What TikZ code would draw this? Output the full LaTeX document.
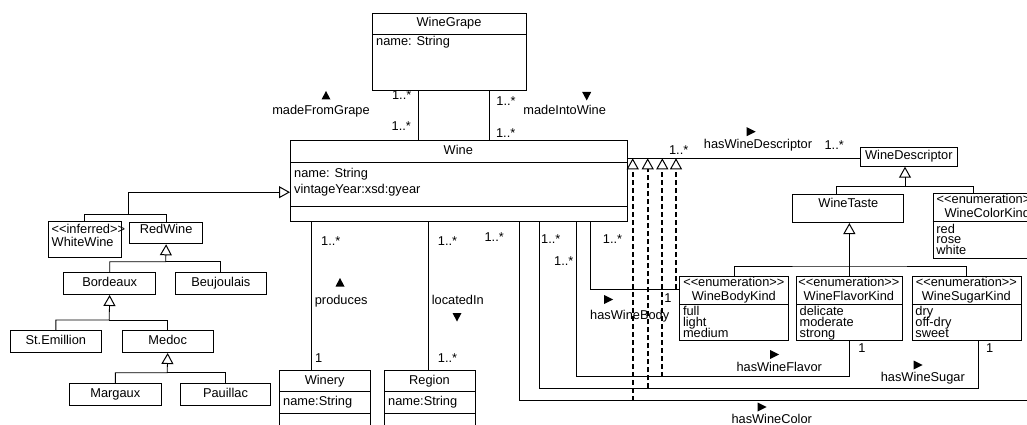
\documentclass[tikz,border=0pt]{standalone}
\usepackage{fontspec}
\setmainfont{Liberation Sans}
\usetikzlibrary{arrows.meta}

\tikzset{
  box/.style={draw, line width=1pt, fill=white, inner sep=0pt, anchor=north west},
  cls/.style={box, minimum height=22pt, text height=9pt, text depth=4pt},
  txt/.style={inner sep=0pt, anchor=base},
  attr/.style={inner sep=0pt, anchor=base west},
  mult/.style={inner sep=0pt, anchor=base},
  items/.style={inner sep=0pt, anchor=north west, align=left,
    font=\fontsize{12.8}{10.8}\selectfont\lineskiplimit-20pt},
  assoc/.style={line width=0.8pt},
  gen/.style={line width=0.8pt, -{Triangle[open, length=11pt, width=12pt, line width=1pt]}},
  subprop/.style={line width=1.8pt, dash pattern=on 5pt off 3pt,
    -{Triangle[open, length=11pt, width=12pt, line width=1pt]}},
  dirR/.pic={\fill (-4,-4.5) -- (5,0) -- (-4,4.5) -- cycle;},
  dirU/.pic={\fill (-4.5,4) -- (4.5,4) -- (0,-4.5) -- cycle;},
  dirD/.pic={\fill (-4.5,-4) -- (4.5,-4) -- (0,4.5) -- cycle;},
}

\begin{document}
\begin{tikzpicture}[x=1pt,y=-1pt,font=\fontsize{12.8}{15}\selectfont]
\useasboundingbox (0,0) rectangle (1027,425);
\clip (0,0) rectangle (1027,425);

% WineGrape
\node[box, minimum width=154pt, minimum height=77pt] (grape) at (372,13.3) {};
\node[txt] (grapeT) at (449,26.8) {WineGrape};
\node[attr] (grapeA) at (376,45.8) {name: String};
\draw[line width=1pt] ([yshift=-21pt]grape.north west) -- ([yshift=-21pt]grape.north east);

% Wine
\node[box, minimum width=336.7pt, minimum height=80.7pt] (wine) at (290,140) {};
\node[txt] (wineT) at (458.3,154.5) {Wine};
\node[attr] (wineA) at (294,177) {name: String};
\node[attr] (wineB) at (294,193.5) {vintageYear:xsd:gyear};
\draw[line width=1pt] ([yshift=-22.3pt]wine.north west) -- ([yshift=-22.3pt]wine.north east);
\draw[line width=1pt] ([yshift=-66pt]wine.north west) -- ([yshift=-66pt]wine.north east);

% Winery and Region
\node[box, minimum width=90.7pt, minimum height=60pt] (winery) at (279.3,370) {};
\node[txt] (wineryT) at (324.7,384.5) {Winery};
\node[attr] (wineryA) at (283,405.8) {name:String};
\draw[line width=1pt] ([yshift=-21.7pt]winery.north west) -- ([yshift=-21.7pt]winery.north east);
\draw[line width=1pt] ([yshift=-43.3pt]winery.north west) -- ([yshift=-43.3pt]winery.north east);
\node[box, minimum width=91pt, minimum height=60pt] (region) at (384,370) {};
\node[txt] (regionT) at (429.5,384.5) {Region};
\node[attr] (regionA) at (388,405.8) {name:String};
\draw[line width=1pt] ([yshift=-21.7pt]region.north west) -- ([yshift=-21.7pt]region.north east);
\draw[line width=1pt] ([yshift=-43.3pt]region.north west) -- ([yshift=-43.3pt]region.north east);

% wine hierarchy
\node[box, minimum width=73pt, minimum height=36.6pt] (whitewine) at (47.7,220.7) {};
\node[attr] (whitewineS) at (51.5,233) {<{}<inferred>{}>};
\node[attr] (whitewineN) at (51.5,246) {WhiteWine};
\node[cls, minimum width=73.3pt, minimum height=21.6pt, text depth=8.4pt] (redwine) at (129,221.7) {RedWine};
\node[cls, minimum width=91.7pt] (bordeaux) at (63.3,272) {Bordeaux};
\node[cls, minimum width=90.7pt] (beujoulais) at (175,272) {Beujoulais};
\node[cls, minimum width=90.7pt] (stemillion) at (10,330) {St.Emillion};
\node[cls, minimum width=91pt] (medoc) at (121.7,330) {Medoc};
\node[cls, minimum width=91.7pt, minimum height=21.7pt] (margaux) at (69,383.3) {Margaux};
\node[cls, minimum width=90pt, minimum height=21.7pt] (pauillac) at (180,383.3) {Pauillac};

% descriptors
\node[cls, minimum width=96.7pt, minimum height=19pt, text depth=4.2pt] (descriptor) at (860,146.7) {WineDescriptor};
\node[cls, minimum width=111pt, minimum height=28pt, text depth=11pt] (wtaste) at (792.3,194) {WineTaste};

\node[box, minimum width=109pt, minimum height=65pt] (colorkind) at (932.7,192.7) {};
\node[txt] (colorkindS) at (987.2,203.2) {<{}<enumeration>{}>};
\node[txt] (colorkindN) at (987.2,217.4) {WineColorKind};
\draw[line width=1pt] ([yshift=-28.5pt]colorkind.north west) -- ([yshift=-28.5pt]colorkind.north east);
\node[items] (colorkindL) at (936.2,223.6) {red\\rose\\white};

\node[box, minimum width=109pt, minimum height=64.5pt] (bodykind) at (679.3,275.5) {};
\node[txt] (bodykindS) at (733.8,286) {<{}<enumeration>{}>};
\node[txt] (bodykindN) at (733.8,300.2) {WineBodyKind};
\draw[line width=1pt] ([yshift=-28.5pt]bodykind.north west) -- ([yshift=-28.5pt]bodykind.north east);
\node[items] (bodykindL) at (682.8,306.4) {full\\light\\medium};

\node[box, minimum width=105.7pt, minimum height=64.5pt] (flavorkind) at (796,275.5) {};
\node[txt] (flavorkindS) at (848.85,286) {<{}<enumeration>{}>};
\node[txt] (flavorkindN) at (848.85,300.2) {WineFlavorKind};
\draw[line width=1pt] ([yshift=-28.5pt]flavorkind.north west) -- ([yshift=-28.5pt]flavorkind.north east);
\node[items] (flavorkindL) at (799.5,306.4) {delicate\\moderate\\strong};

\node[box, minimum width=109.3pt, minimum height=64.5pt] (sugarkind) at (911.7,275.5) {};
\node[txt] (sugarkindS) at (966.35,286) {<{}<enumeration>{}>};
\node[txt] (sugarkindN) at (966.35,300.2) {WineSugarKind};
\draw[line width=1pt] ([yshift=-28.5pt]sugarkind.north west) -- ([yshift=-28.5pt]sugarkind.north east);
\node[items] (sugarkindL) at (915.2,306.4) {dry\\off-dry\\sweet};

% generalizations
\coordinate (winebus) at (128,214);
\draw[gen] (whitewine.north) |- (winebus) |- ([yshift=-11.35pt]wine.west);
\draw[assoc] (redwine.north) |- (winebus);
\coordinate (redbus) at (165.7,261.7);
\draw[gen] (bordeaux.north) |- (redbus) -- (redwine.south);
\draw[assoc] (beujoulais.north) |- (redbus);
\coordinate (bordbus) at (109.2,320);
\draw[gen] (stemillion.north) |- (bordbus) -- (bordeaux.south);
\draw[assoc] (medoc.north) |- (bordbus);
\coordinate (medocbus) at (167.2,372.7);
\draw[gen] (margaux.north) |- (medocbus) -- (medoc.south);
\draw[assoc] (pauillac.north) |- (medocbus);
\coordinate (descbus) at (905,186.7);
\draw[gen] ([xshift=-11.8pt]wtaste.north) |- (descbus) -- (descbus |- descriptor.south);
\draw[assoc] ([xshift=-13.9pt]colorkind.north) |- (descbus);
\coordinate (tastebus) at (848.85,266);
\draw[gen] (flavorkind.north) -- (flavorkind.north |- wtaste.south);
\draw[assoc] (bodykind.north) |- (tastebus) -| (sugarkind.north);

% associations
\draw[assoc] (grape.south -| 418.7,0) -- (wine.north -| 418.7,0);
\draw[assoc] (grape.south -| 489,0) -- (wine.north -| 489,0);
\draw[assoc] (wine.south -| 311.7,0) -- (winery.north -| 311.7,0);
\draw[assoc] (wine.south -| 428.3,0) -- (region.north -| 428.3,0);
\draw[assoc] (wine.east |- 0,158.3) -- (descriptor.west |- 0,158.3);
\coordinate (bodybend) at (590.7,289);
\draw[assoc] (wine.south -| bodybend) -- (bodybend) -- (bodykind.west |- bodybend);
\coordinate (flavorbend) at (576,376.7);
\draw[assoc] (wine.south -| flavorbend) -- (flavorbend) -| (flavorkind.south);
\coordinate (sugarbend) at (539.3,388.3);
\draw[assoc] (wine.south -| sugarbend) -- (sugarbend) -| ([xshift=11.4pt]sugarkind.south);
\coordinate (colorbend) at (519.3,400.7);
\draw[assoc] (wine.south -| colorbend) -- (colorbend) -| (colorkind.east);

% sub-properties of hasWineDescriptor
\coordinate (sub1) at (632.7,158.3);
\coordinate (sub2) at (647.7,158.3);
\coordinate (sub3) at (662.3,158.3);
\coordinate (sub4) at (676,158.3);
\draw[subprop] (sub1 |- colorbend) -- (sub1);
\draw[subprop] (sub2 |- sugarbend) -- (sub2);
\draw[subprop] (sub3 |- flavorbend) -- (sub3);
\draw[subprop] (sub4 |- bodybend) -- (sub4);

% multiplicities
\node[mult] (m1) at (401.7,99.5) {1..*};
\node[mult] (m2) at (401.3,130) {1..*};
\node[mult] (m3) at (506,106) {1..*};
\node[mult] (m4) at (505.7,137) {1..*};
\node[mult] (m5) at (330.8,245) {1..*};
\node[mult] (m6) at (447.5,245) {1..*};
\node[mult] (m7) at (494.2,241) {1..*};
\node[mult] (m8) at (550.8,243.3) {1..*};
\node[mult] (m9) at (563.8,265) {1..*};
\node[mult] (m10) at (612.5,243.3) {1..*};
\node[mult] (m11) at (678.7,154) {1..*};
\node[mult] (m12) at (834.2,149.5) {1..*};
\node[mult] (m13) at (667.8,302.5) {1};
\node[mult] (m14) at (862,352.5) {1};
\node[mult] (m15) at (989.7,352.5) {1};
\node[mult] (m16) at (318.7,362) {1};
\node[mult] (m17) at (447.5,362) {1..*};

% role names
\node[txt] (mfgL) at (321,115) {madeFromGrape};
\node[txt] (miwL) at (564.7,115) {madeIntoWine};
\node[txt] (prodL) at (341.2,304) {produces};
\node[txt] (locL) at (457.8,304) {locatedIn};
\node[txt] (descL) at (758,148.3) {hasWineDescriptor};
\node[txt] (bodyL) at (629.7,319) {hasWineBody};
\node[txt] (flavL) at (779.2,371.6) {hasWineFlavor};
\node[txt] (sugL) at (922.8,381.6) {hasWineSugar};
\node[txt] (colL) at (771.7,423) {hasWineColor};
\pic at (326,95.5) {dirU};
\pic at (586.7,96) {dirD};
\pic at (340,282.5) {dirU};
\pic at (457,317) {dirD};
\pic at (750.7,131.7) {dirR};
\pic at (608,299.5) {dirR};
\pic at (774,354.5) {dirR};
\pic at (917.7,365) {dirR};
\pic at (761.7,407) {dirR};
\end{tikzpicture}
\end{document}
